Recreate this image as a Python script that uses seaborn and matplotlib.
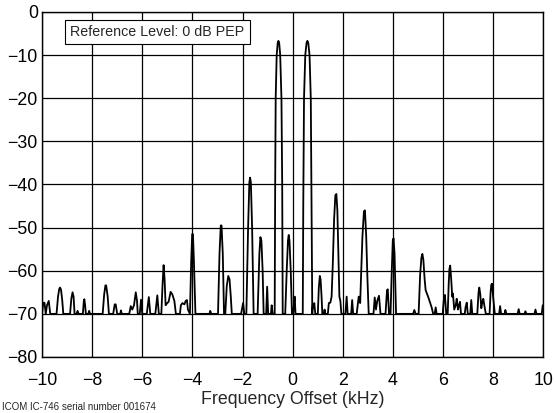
import matplotlib
matplotlib.use("Agg")
import matplotlib.pyplot as plt
import seaborn as sns
import pandas as pd

# Spectrum trace (kHz offset, dB rel. PEP)
freq_khz = [
    -10.0, -9.95, -9.90, -9.85, -9.80, -9.73, -9.67,
    -9.42, -9.36, -9.31, -9.28, -9.24, -9.19, -9.15,
    -8.88, -8.83, -8.78, -8.74, -8.70, -8.62, -8.58, -8.54,
    -8.37, -8.33, -8.31, -8.28, -8.25, -8.15, -8.12, -8.08,
    -7.58, -7.52, -7.47, -7.44, -7.38, -7.33,
    -7.16, -7.10, -7.06, -7.00, -6.88, -6.85, -6.82,
    -6.52, -6.46, -6.40, -6.33, -6.26, -6.21, -6.18,
    -6.10, -6.05, -6.00, -5.82, -5.74, -5.68, -5.48, -5.40, -5.34,
    -5.24, -5.19, -5.15, -5.11, -5.07, -5.02, -4.95, -4.87, -4.80, -4.72, -4.66,
    -4.50, -4.46, -4.40, -4.32, -4.27, -4.22, -4.18,
    -4.10, -4.05, -4.01, -3.98, -3.94, -3.88,
    -3.32, -3.29, -3.25,
    -2.98, -2.92, -2.87, -2.84, -2.79, -2.74,
    -2.69, -2.63, -2.57, -2.52, -2.47, -2.43,
    -2.06, -1.98, -1.93,
    -1.85, -1.78, -1.73, -1.70, -1.67, -1.62, -1.56,
    -1.40, -1.33, -1.29, -1.25, -1.20, -1.16,
    -1.06, -1.02, -0.98, -0.87, -0.84, -0.80,
    -0.72, -0.70, -0.68, -0.64, -0.60, -0.57, -0.54, -0.50, -0.45, -0.42, -0.40,
    -0.30, -0.24, -0.19, -0.16, -0.13, -0.08, -0.03,
    0.02, 0.06, 0.08, 0.11,
    0.40, 0.42, 0.45, 0.50, 0.55, 0.585, 0.62, 0.67, 0.72, 0.75, 0.78,
    0.80, 0.83, 0.86, 0.90,
    1.00, 1.04, 1.08, 1.11, 1.15, 1.18,
    1.24, 1.27, 1.30,
    1.40, 1.44, 1.50, 1.55, 1.60, 1.65, 1.70, 1.74, 1.78, 1.82, 1.86, 1.90, 1.94,
    2.10, 2.15, 2.19, 2.33, 2.37, 2.41,
    2.55, 2.63, 2.69, 2.72, 2.78, 2.84, 2.88, 2.93, 2.98, 3.03,
    3.22, 3.27, 3.32, 3.37, 3.44, 3.50,
    3.70, 3.76, 3.79, 3.84,
    3.90, 3.95, 3.99, 4.02, 4.06, 4.12,
    4.80, 4.85, 4.90,
    5.02, 5.08, 5.13, 5.17, 5.21, 5.26, 5.30, 5.41, 5.54, 5.60, 5.66, 5.70, 5.74,
    5.98, 6.02, 6.07, 6.12,
    6.18, 6.22, 6.25, 6.28, 6.32, 6.36, 6.39, 6.44, 6.50, 6.54, 6.59, 6.63, 6.67, 6.71,
    6.86, 6.89, 6.94, 6.98, 7.08, 7.12, 7.16,
    7.36, 7.41, 7.44, 7.48, 7.52, 7.57, 7.60, 7.64, 7.70,
    7.85, 7.89, 7.92, 7.95, 7.99, 8.03, 8.06,
    8.23, 8.27, 8.31, 8.45, 8.48, 8.52,
    8.97, 9.01, 9.05, 9.24, 9.28, 9.32, 9.64, 9.68, 9.72, 9.93, 9.97, 10.0,
]
level_db = [
    -70, -67.5, -67.4, -70, -68, -67.0, -70,
    -70, -66, -64.2, -63.9, -64.4, -67, -70,
    -70, -66.5, -65.0, -66, -70, -70, -69.3, -70,
    -70, -67, -66.6, -68, -70, -70, -69.3, -70,
    -70, -65.5, -63.4, -63.4, -66, -70,
    -70, -67.8, -67.8, -70, -70, -69.2, -70,
    -70, -68.2, -69, -68, -65.0, -67, -70,
    -70, -66.7, -70, -70, -66.1, -70, -70, -65.7, -70,
    -70, -63, -58.7, -62, -68, -67.6, -67.2, -64.9, -65.5, -67, -70,
    -70, -68, -67.5, -67.8, -67.0, -66.8, -69,
    -70, -58, -51.5, -51.5, -58, -70,
    -70, -69.3, -70,
    -70, -56, -49.5, -49.5, -56, -70,
    -70, -63.5, -61.2, -62, -66, -70,
    -70, -67.5, -70,
    -70, -50, -39.5, -38.4, -39.5, -50, -70,
    -70, -56, -52.2, -53, -60, -70,
    -70, -63.7, -70, -70, -68, -70,
    -70, -40, -20, -10, -7.2, -6.7, -7.2, -10, -20, -40, -70,
    -70, -60, -53, -51.7, -53, -60, -70,
    -70, -67, -66, -70,
    -70, -45, -20, -10, -7.2, -6.7, -7.2, -10, -20, -45, -70,
    -67.9, -68.5, -67.5, -70,
    -70, -64, -61.2, -62, -66, -70,
    -70, -69, -70,
    -70, -67.5, -67.4, -66, -58, -48, -42.5, -42.2, -46, -56, -66, -67, -70,
    -70, -66, -70, -70, -66.8, -70,
    -70, -66, -67.5, -62, -52, -46.2, -46, -52, -62, -70,
    -70, -66.2, -69, -67, -65.8, -70,
    -70, -64.5, -64.3, -70,
    -70, -60, -53, -52.5, -56, -70,
    -70, -69.1, -70,
    -70, -61, -57, -56.1, -57.5, -62, -64.5, -66.2, -68.5, -70, -70, -68.5, -70,
    -70, -67, -65.6, -70,
    -70, -63, -59.5, -58.8, -62, -66, -65.3, -69, -68, -66.5, -69, -68, -67.2, -70,
    -70, -68.5, -67.4, -70, -70, -66.8, -70,
    -70, -65, -63.9, -65.5, -68.7, -67, -66.5, -68, -70,
    -70, -65, -63.2, -63.0, -66, -68.2, -70,
    -70, -68.2, -70, -70, -69.1, -70,
    -70, -68.9, -70, -70, -69.4, -70, -70, -69, -70, -70, -68, -68.5,
]
x_ticks = [-10, -8, -6, -4, -2, 0, 2, 4, 6, 8, 10]
y_ticks = [0, -10, -20, -30, -40, -50, -60, -70, -80]

df = pd.DataFrame({"freq": freq_khz, "level": level_db})

sns.set_style("white")
plt.rcParams["font.family"] = ["Liberation Sans", "DejaVu Sans"]

fig = plt.figure(figsize=(5.56, 4.13), dpi=100)
ax = fig.add_axes([0.0755, 0.1356, 0.902, 0.8354])

sns.lineplot(data=df, x="freq", y="level", sort=False, estimator=None,
             color="black", linewidth=1.3, ax=ax)

ax.set_xlim(-10, 10)
ax.set_ylim(-80, 0)
ax.set_xticks(x_ticks)
ax.set_yticks(y_ticks)
ax.grid(True, color="black", linewidth=0.9)
ax.set_axisbelow(True)
for s in ax.spines.values():
    s.set_color("black")
    s.set_linewidth(1.0)
ax.tick_params(axis="both", length=0, labelsize=12.8, colors="black")
ax.tick_params(axis="x", pad=10.5)
ax.tick_params(axis="y", pad=3)
ax.set_xlabel("Frequency Offset (kHz)", fontsize=12.8, labelpad=2)
ax.set_ylabel("")

ax.text(0.2295, 0.942, "Reference Level: 0 dB PEP", transform=ax.transAxes,
        ha="center", va="center", fontsize=10.3,
        bbox=dict(boxstyle="square,pad=0.38", facecolor="white",
                  edgecolor="black", linewidth=0.8))

fig.text(0.004, 0.002, "ICOM IC-746 serial number 001674", fontsize=7,
         ha="left", va="bottom")

fig.savefig("out.png", dpi=100)
